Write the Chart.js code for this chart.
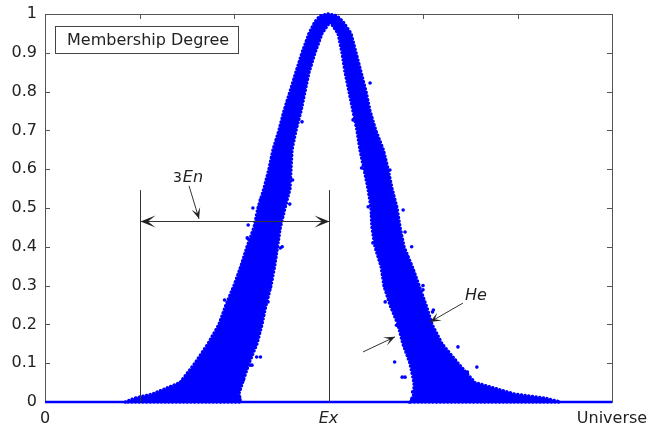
<!DOCTYPE html>
<html>
<head>
<meta charset="utf-8">
<script src="https://cdn.jsdelivr.net/npm/chart.js@4.4.1/dist/chart.umd.min.js"></script>
<style>
  html, body { margin: 0; padding: 0; background: #fff; }
</style>
</head>
<body>
<canvas id="cloud" width="649" height="431"></canvas>
<script>
// membership levels at which the edges of the drop cloud were read
const levels     = [0.01, 0.02, 0.05, 0.1, 0.15, 0.2, 0.25, 0.3, 0.35, 0.4, 0.45, 0.5, 0.55, 0.6, 0.65, 0.7, 0.75, 0.8, 0.85, 0.9, 0.95, 0.98];
const leftOuter  = [0.952, 1.132, 1.429, 1.587, 1.725, 1.841, 1.915, 2.0, 2.074, 2.138, 2.212, 2.254, 2.317, 2.370, 2.413, 2.476, 2.529, 2.593, 2.656, 2.720, 2.794, 2.857];
const leftInner  = [2.06, 2.05, 2.09, 2.159, 2.243, 2.296, 2.339, 2.392, 2.430, 2.460, 2.490, 2.540, 2.593, 2.603, 2.614, 2.656, 2.709, 2.751, 2.794, 2.857, 2.931, 3.016];
const rightInner = [3.884, 3.905, 3.905, 3.862, 3.788, 3.735, 3.651, 3.587, 3.556, 3.492, 3.460, 3.450, 3.418, 3.376, 3.333, 3.302, 3.259, 3.217, 3.175, 3.143, 3.101, 3.016];
const rightOuter = [5.291, 4.974, 4.550, 4.370, 4.201, 4.095, 4.032, 3.958, 3.884, 3.799, 3.757, 3.725, 3.672, 3.630, 3.580, 3.500, 3.439, 3.397, 3.344, 3.291, 3.238, 3.153];
const topX  = [2.91, 2.995, 3.09];
const topY  = [0.995, 1, 0.995];
const footX = [0.85, 2.07, 3.87, 5.45];

// loose drops sitting on or outside the edge of the dense band
const strayX = [2.72, 2.62, 2.20, 2.15, 2.10, 1.90, 2.51, 2.38, 2.28, 2.19, 1.59, 1.71, 2.59, 3.46, 3.47, 3.54, 4.00, 4.11, 3.70, 3.78,
                4.47, 4.57, 3.89, 3.99, 4.78, 4.37, 3.25, 3.26, 3.79, 3.42, 3.65, 1.46, 1.746, 1.83, 1.905, 1.94, 2.36, 2.25, 2.24, 2.06,
                2.10, 2.17, 1.355, 1.22, 3.915, 3.88, 4.29, 4.68, 4.99, 4.25, 4.20, 4.10, 3.60, 3.72, 3.81, 2.15, 2.14, 2.01, 2.28, 2.49,
                3.49, 3.81, 3.88, 4.00, 3.60, 3.35, 3.44];
const strayY = [0.722, 0.572, 0.50, 0.42, 0.36, 0.263, 0.40, 0.294, 0.116, 0.095, 0.09, 0.12, 0.51, 0.482, 0.41, 0.387, 0.289, 0.237, 0.103, 0.064,
                0.077, 0.09, 0.026, 0.005, 0.023, 0.142, 0.786, 0.727, 0.495, 0.503, 0.598, 0.057, 0.152, 0.173, 0.204, 0.232, 0.258, 0.198, 0.116, 0.013,
                0.057, 0.095, 0.026, 0.013, 0.031, 0.005, 0.116, 0.036, 0.005, 0.049, 0.147, 0.232, 0.258, 0.198, 0.064, 0.456, 0.423, 0.276, 0.521, 0.397,
                0.423, 0.438, 0.40, 0.30, 0.294, 0.603, 0.822];

// drops lying on the axis far from Ex
const tailX = [0, 6];
const tailY = [0, 0];

const xTickLabels = ['0', '', '', 'Ex', '', '', 'Universe'];
const yTickLabels = ['0', '0.1', '0.2', '0.3', '0.4', '0.5', '0.6', '0.7', '0.8', '0.9', '1'];

const FONT = 'DejaVu Sans';
const BLUE = '#0000ff';

// outline of the cloud band, walked round once
const cloudShape = [{ x: footX[0], y: 0 }];
levels.forEach((y, i) => cloudShape.push({ x: leftOuter[i], y }));
topX.forEach((x, i) => cloudShape.push({ x, y: topY[i] }));
for (let i = levels.length - 1; i >= 0; i--) cloudShape.push({ x: rightOuter[i], y: levels[i] });
cloudShape.push({ x: footX[3], y: 0 }, { x: footX[2], y: 0 });
levels.forEach((y, i) => cloudShape.push({ x: rightInner[i], y }));
for (let i = levels.length - 1; i >= 0; i--) cloudShape.push({ x: leftInner[i], y: levels[i] });
cloudShape.push({ x: footX[1], y: 0 }, { x: footX[0], y: 0 });

const strays = strayX.map((x, i) => ({ x, y: strayY[i] }));
const tail = tailX.map((x, i) => ({ x, y: tailY[i] }));

function arrowHead(ctx, x1, y1, x2, y2, len, half) {
  const ang = Math.atan2(y2 - y1, x2 - x1);
  ctx.save();
  ctx.translate(x2, y2);
  ctx.rotate(ang);
  ctx.beginPath();
  ctx.moveTo(0, 0);
  ctx.lineTo(-len, -half);
  ctx.lineTo(-len * 0.5, 0);
  ctx.lineTo(-len, half);
  ctx.closePath();
  ctx.fill();
  ctx.restore();
}

function arrow(ctx, x1, y1, x2, y2, len, half) {
  ctx.beginPath();
  ctx.moveTo(x1, y1);
  ctx.lineTo(x2, y2);
  ctx.stroke();
  arrowHead(ctx, x1, y1, x2, y2, len, half);
}

const framePlugin = {
  id: 'frame',
  beforeDatasetsDraw(chart) {
    const { ctx, chartArea: a, scales: { x, y } } = chart;
    ctx.save();
    ctx.strokeStyle = '#555';
    ctx.lineWidth = 1;
    ctx.strokeRect(a.left + 0.5, a.top + 0.5, a.right - a.left, a.bottom - a.top);
    ctx.beginPath();
    for (let v = 1; v < 6; v++) {
      const px = Math.round(x.getPixelForValue(v)) + 0.5;
      ctx.moveTo(px, a.top); ctx.lineTo(px, a.top + 5);
      ctx.moveTo(px, a.bottom); ctx.lineTo(px, a.bottom - 5);
    }
    for (let v = 1; v < 10; v++) {
      const py = Math.round(y.getPixelForValue(v / 10)) + 0.5;
      ctx.moveTo(a.left, py); ctx.lineTo(a.left + 5, py);
      ctx.moveTo(a.right, py); ctx.lineTo(a.right - 5, py);
    }
    ctx.stroke();
    ctx.restore();
  },
  afterDatasetsDraw(chart) {
    const { ctx, chartArea: a, scales: { x, y } } = chart;
    const X = v => x.getPixelForValue(v);
    const Y = v => y.getPixelForValue(v);
    ctx.save();
    ctx.strokeStyle = '#333';
    ctx.fillStyle = '#222';
    ctx.lineWidth = 1;

    // 3En bracket
    const xl = Math.round(X(1)) + 0.5, xr = Math.round(X(3)) + 0.5;
    ctx.beginPath();
    ctx.moveTo(xl, Y(0)); ctx.lineTo(xl, Y(0.546));
    ctx.moveTo(xr, Y(0)); ctx.lineTo(xr, Y(0.546));
    ctx.stroke();
    const ya = Math.round(Y(0.467)) + 0.5;
    ctx.beginPath();
    ctx.moveTo(xl, ya); ctx.lineTo(xr, ya);
    ctx.stroke();
    arrowHead(ctx, xr, ya, xl, ya, 15, 6);
    arrowHead(ctx, xl, ya, xr, ya, 15, 6);

    arrow(ctx, X(1.524), Y(0.557), X(1.630), Y(0.472), 11, 4.5);
    ctx.textBaseline = 'alphabetic';
    ctx.font = '14px "' + FONT + '"';
    ctx.fillText('3', X(1.354), Y(0.567));
    const w3 = ctx.measureText('3').width;
    ctx.font = 'italic 16px "' + FONT + '"';
    ctx.fillText('En', X(1.354) + w3 + 1, Y(0.567));

    // He arrows
    arrow(ctx, X(4.423), Y(0.255), X(4.074), Y(0.206), 11, 4.5);
    arrow(ctx, X(3.365), Y(0.129), X(3.704), Y(0.168), 11, 4.5);
    ctx.fillText('He', X(4.444), Y(0.263));

    // legend box
    const bx = a.left + 10.5, by = a.top + 12.5;
    ctx.fillStyle = '#fff';
    ctx.fillRect(bx, by, 183, 27);
    ctx.strokeStyle = '#444';
    ctx.strokeRect(bx, by, 183, 27);
    ctx.fillStyle = '#222';
    ctx.font = '16px "' + FONT + '"';
    ctx.textBaseline = 'middle';
    ctx.fillText('Membership Degree', bx + 11.5, by + 14);
    ctx.restore();
  }
};

new Chart(document.getElementById('cloud'), {
  type: 'scatter',
  data: {
    datasets: [
      {
        data: cloudShape,
        showLine: true,
        fill: 'shape',
        tension: 0,
        borderColor: BLUE,
        borderWidth: 3.5,
        borderDash: [0.1, 3.6],
        borderCapStyle: 'round',
        backgroundColor: BLUE,
        pointRadius: 0,
        clip: false,
      },
      {
        data: strays,
        pointRadius: 1.8,
        pointBorderWidth: 0,
        backgroundColor: BLUE,
        borderColor: BLUE,
        clip: false,
      },
      {
        data: tail,
        showLine: true,
        borderColor: BLUE,
        borderWidth: 2.5,
        pointRadius: 0,
        clip: false,
      },
    ],
  },
  options: {
    responsive: false,
    animation: false,
    events: [],
    layout: {
      padding: { top: 14, right: 37, left: 0, bottom: 0 },
    },
    plugins: {
      legend: { display: false },
      tooltip: { enabled: false },
    },
    scales: {
      x: {
        type: 'linear',
        min: 0,
        max: 6,
        afterFit: scale => {
          scale.height = 29;
          scale.paddingLeft = 0;
          scale.paddingRight = 0;
        },
        grid: { display: false, drawTicks: false },
        border: { display: false },
        ticks: {
          stepSize: 1,
          padding: 7,
          color: '#222',
          maxRotation: 0,
          autoSkip: false,
          callback: (value, index) => xTickLabels[index],
          font: c => ({
            family: FONT,
            size: 16,
            style: c.tick && c.tick.value === 3 ? 'italic' : 'normal',
          }),
        },
      },
      y: {
        type: 'linear',
        min: 0,
        max: 1,
        afterFit: scale => {
          scale.width = 45;
          scale.paddingTop = 0;
          scale.paddingBottom = 0;
        },
        grid: { display: false, drawTicks: false },
        border: { display: false },
        ticks: {
          stepSize: 0.1,
          padding: 8,
          color: '#222',
          autoSkip: false,
          callback: (value, index) => yTickLabels[index],
          font: { family: FONT, size: 16 },
        },
      },
    },
  },
  plugins: [framePlugin],
});
</script>
</body>
</html>
